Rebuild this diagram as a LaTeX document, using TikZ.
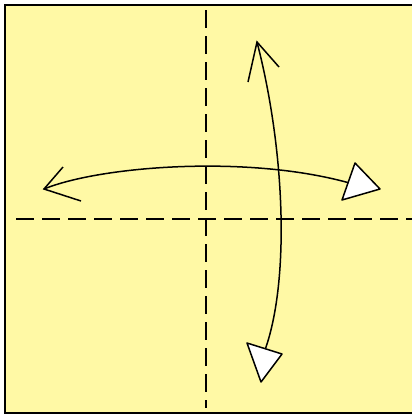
\documentclass[tikz,border=0pt]{standalone}
\usepackage{tikz}
\usepackage{xcolor}
\definecolor{paper}{RGB}{255,249,165}
\tikzset{
    fold/.style={dash pattern=on 18pt off 8pt, line width=1.8pt},
    move/.style={line width=1.5pt},
    tip/.style={line width=1.5pt, fill=white, line join=round}
}

\begin{document}
\begin{tikzpicture}[x=1pt,y=-1pt]
    \useasboundingbox (0,0) rectangle (412,415);
    \fill[paper] (5,5) rectangle (412,413);
    \draw[line width=2.2pt] (412,5)--(5,5)--(5,413)--(412,413);
    % folds
    \draw[fold] (206,10)--(206,408);
    \draw[fold] (16,219)--(412,219);
    % left-right arrow
    \coordinate (L) at (44,189);
    \coordinate (R) at (353,184);
    \draw[move] (L) .. controls (100,166) and (250,154) .. (R);
    \draw[move] (63,167)--(L)--(81,201);
    \draw[tip] (355,163)--(380,189)--(342,200)--cycle;
    % up-down arrow
    \coordinate (T) at (257,42);
    \coordinate (B) at (265,350);
    \draw[move] (T) .. controls (285,150) and (290,280) .. (B);
    \draw[move] (248,82)--(T)--(279,67);
    \draw[tip] (247,343)--(282,354)--(261,382)--cycle;
\end{tikzpicture}
\end{document}
